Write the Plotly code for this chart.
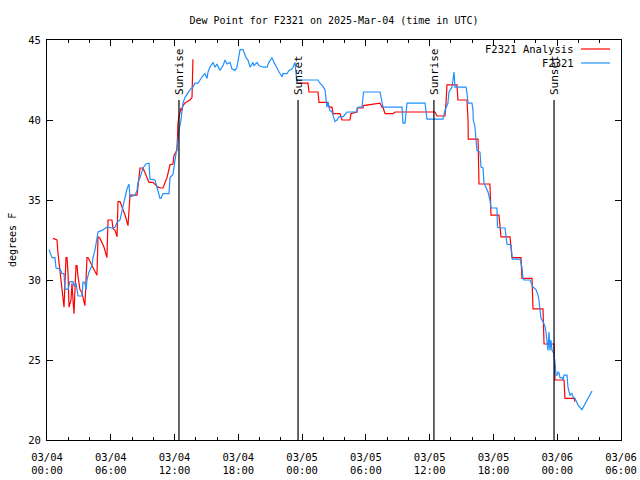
import pandas as pd
import plotly.graph_objects as go

# ---- data (hours since 2025-03-04 00:00 UTC, dew point degF) ----
obs_hours = [0.19, 0.47, 0.75, 0.85, 1.22, 1.41, 1.60, 1.69, 1.98, 2.16, 2.45, 2.54, 2.73, 2.92,
             3.29, 3.39, 3.57, 3.67, 3.76, 3.95, 4.23, 4.33, 4.52, 4.70, 4.75, 4.80, 5.17, 5.64,
             6.11, 6.40, 6.59, 6.87, 7.15, 7.43, 7.53, 7.71, 7.81, 8.28, 8.47, 8.56, 8.75, 9.03,
             9.31, 9.60, 9.69, 10.16, 10.35, 10.63, 10.72, 10.91, 11.48, 11.57, 11.85, 12.04,
             12.23, 12.32, 12.42, 12.61, 12.70, 12.79, 12.98, 13.17, 13.45, 13.73, 13.92, 14.21,
             14.58, 14.86, 15.05, 15.15, 15.33, 15.62, 15.80, 15.99, 16.27, 16.56, 16.75, 16.93,
             17.22, 17.40, 17.69, 17.87, 18.16, 18.44, 18.72, 18.91, 19.10, 19.38, 19.47, 19.76,
             19.94, 20.32, 20.70, 20.88, 21.17, 21.35, 21.54, 21.64, 21.83, 22.11, 22.20, 22.58,
             22.77, 23.05, 23.14, 23.33, 23.52, 23.56, 25.49, 25.68, 25.96, 26.15, 26.34, 26.43,
             26.62, 26.81, 26.91, 27.09, 27.28, 27.47, 27.85, 28.22, 29.16, 29.26, 29.63, 29.73,
             29.78, 31.33, 31.51, 31.61, 33.40, 33.49, 33.68, 33.87, 35.56, 35.75, 37.25, 37.44,
             37.72, 37.82, 38.10, 38.19, 38.29, 38.38, 39.42, 39.51, 39.61, 39.98, 40.08, 40.10,
             40.26, 40.36, 40.45, 40.73, 40.83, 41.02, 41.11, 41.49, 41.67, 41.77, 42.33, 42.38,
             42.62, 43.09, 43.18, 43.27, 43.65, 43.74, 43.78, 44.50, 44.68, 44.78, 44.87, 45.44,
             45.72, 46.00, 46.19, 46.28, 46.38, 46.47, 46.66, 46.85, 46.94, 47.04, 47.13, 47.22,
             47.32, 47.41, 47.51, 47.60, 47.70, 47.79, 47.88, 47.98, 48.07, 48.17, 48.26, 48.45,
             48.54, 48.64, 48.92, 49.01, 49.20, 49.39, 49.48, 49.67, 49.95, 50.33, 50.80, 51.27]
obs_dewpt = [31.9, 31.4, 31.4, 30.75, 30.7, 30.4, 30.4, 29.44, 29.4, 29.9, 29.9, 29.6, 29.8, 29.0,
             29.0, 29.9, 29.8, 29.4, 30.0, 30.5, 30.9, 31.4, 31.9, 32.5, 32.9, 33.0, 33.1, 33.3,
             33.25, 33.3, 33.6, 33.75, 34.6, 35.4, 35.7, 36.0, 35.2, 35.3, 35.6, 36.1, 36.4, 37.0,
             37.25, 37.3, 36.3, 36.25, 35.8, 35.1, 35.1, 35.4, 35.4, 36.4, 36.6, 37.5,
             38.1, 38.75, 39.4, 40.0, 40.6, 41.06, 41.4, 41.6, 41.9, 42.06, 42.3, 42.3,
             42.7, 42.9, 42.6, 43.0, 43.3, 43.6, 43.3, 43.5, 43.1, 43.4, 43.75, 43.5,
             43.6, 43.2, 43.1, 43.3, 44.4, 44.4, 43.9, 43.75, 43.3, 43.6, 43.4, 43.6,
             43.4, 43.3, 43.3, 43.6, 43.9, 43.6, 43.3, 43.25, 43.0, 42.7, 42.9, 42.9,
             43.1, 43.2, 43.3, 43.6, 42.3, 42.5, 42.5, 42.3, 42.1, 41.9, 40.8, 41.1,
             40.6, 40.5, 40.3, 39.9, 40.0, 40.2, 40.2, 40.5, 40.5, 40.8, 40.8, 41.25,
             41.75, 41.75, 41.25, 40.8, 40.8, 39.8, 39.8, 41.06, 41.06, 40.06, 40.06, 40.6,
             41.06, 41.75, 42.06, 42.6, 43.0, 42.06, 42.06, 41.7, 41.06, 41.06, 40.6, 40.0,
             39.6, 38.75, 38.1, 38.0, 37.06, 37.0, 36.06, 35.5, 35.0, 34.5, 34.5, 33.3,
             33.25, 33.25, 32.7, 32.25, 32.2, 31.7, 31.3, 31.3, 30.8, 30.1, 30.0, 30.0,
             29.56, 29.4, 29.06, 28.75, 28.1, 27.6, 27.4, 27.1, 26.75, 26.06, 25.6, 26.75,
             25.6, 26.25, 25.6, 25.5, 25.4, 24.8, 24.06, 24.06, 24.25, 24.2, 23.9, 23.9,
             23.75, 24.06, 24.06, 23.3, 22.8, 22.9, 22.7, 22.6, 22.2, 21.9, 22.5, 23.06]

ana_hours = [0.56, 0.94, 1.03, 1.22, 1.41, 1.51, 1.60, 1.79, 1.88, 1.98, 2.07, 2.26, 2.35, 2.45,
             2.54, 2.73, 2.82, 2.92, 3.10, 3.29, 3.39, 3.57, 3.76, 3.86, 4.23, 4.52, 4.70, 4.80,
             4.99, 5.36, 5.64, 5.74, 6.11, 6.21, 6.40, 6.59, 6.68, 6.87, 7.34, 7.62, 7.71, 7.81,
             8.47, 8.56, 8.75, 9.03, 9.41, 9.60, 9.97, 10.44, 10.72, 10.91, 11.29, 11.57, 11.85,
             11.95, 12.23, 12.32, 12.42, 12.61, 12.70, 12.79, 12.98, 13.45, 13.64, 13.66, 13.73,
             None,
             23.52, 24.55, 24.65, 25.49, 25.59, 26.43, 26.53, 26.81, 26.91, 27.56, 27.75, 28.50,
             28.60, 29.16, 29.18, 29.73, 29.75, 31.14, 31.33, 31.51, 31.61, 31.80, 32.55, 32.74,
             36.50, 36.69, 37.44, 37.54, 37.63, 38.57, 38.66, 39.51, 39.61, 39.63, 40.55, 40.64,
             41.67, 41.77, 42.52, 42.71, 43.56, 43.74, 44.59, 44.68, 45.63, 45.72, 46.66, 46.76,
             47.70, 47.79, 48.64, 48.73, 49.58, 49.67]
ana_dewpt = [32.6, 32.5, 31.7, 30.6, 29.56, 28.75, 28.3, 31.4, 31.4, 30.4, 28.3, 28.75, 29.8, 28.75,
             27.9, 30.9, 30.9, 30.2, 29.4, 29.2, 28.9, 28.4, 31.4, 31.4, 30.9, 30.5, 30.3, 32.7,
             32.6, 32.06, 31.4, 33.75, 33.75, 33.2, 33.1, 32.7, 34.9, 34.9, 34.06, 33.4, 34.8, 35.3,
             35.3, 35.9, 37.0, 37.0, 36.4, 36.1, 36.1, 35.8, 35.75, 35.75, 36.4, 37.2, 37.25,
             37.8, 38.1, 39.8, 40.2, 40.75, 40.6, 40.9, 41.06, 41.25, 41.4, 42.3, 43.8,
             None,
             42.3, 42.3, 41.75, 41.75, 41.1, 41.1, 40.8, 40.8, 40.4, 40.4, 40.0, 40.0,
             40.4, 40.5, 40.75, 40.75, 40.9, 41.06, 41.06, 40.8, 40.8, 40.4, 40.4, 40.5,
             40.5, 40.25, 40.25, 41.1, 42.2, 42.2, 41.25, 41.25, 40.0, 38.8, 38.8, 36.0,
             36.0, 34.06, 34.06, 32.7, 32.7, 31.4, 31.4, 30.1, 30.1, 28.2, 28.2, 26.0,
             26.0, 23.75, 23.75, 22.6, 22.6, 22.4]

sun_labels = ["Sunrise", "Sunset", "Sunrise", "Sunset"]
sun_times = ["2025-03-04 12:25", "2025-03-04 23:37", "2025-03-05 12:24", "2025-03-05 23:42"]

x_tick_vals = ["2025-03-04 00:00", "2025-03-04 06:00", "2025-03-04 12:00", "2025-03-04 18:00",
               "2025-03-05 00:00", "2025-03-05 06:00", "2025-03-05 12:00", "2025-03-05 18:00",
               "2025-03-06 00:00", "2025-03-06 06:00"]
x_tick_text = ["03/04<br>00:00", "03/04<br>06:00", "03/04<br>12:00", "03/04<br>18:00",
               "03/05<br>00:00", "03/05<br>06:00", "03/05<br>12:00", "03/05<br>18:00",
               "03/06<br>00:00", "03/06<br>06:00"]
y_tick_vals = [20, 25, 30, 35, 40, 45]

# ---- build ----
t0 = pd.Timestamp("2025-03-04 00:00")
def to_time(hs):
    return [None if h is None else t0 + pd.Timedelta(hours=h) for h in hs]

FONT = "DejaVu Sans Mono"
FS = 10
RED = "#ff0000"
BLUE = "#1e90ff"
L, R, T, B = 47, 19, 40, 40
PW, PH = 640 - L - R, 480 - T - B

fig = go.Figure()
fig.add_trace(go.Scatter(x=to_time(ana_hours), y=ana_dewpt, mode="lines",
                         line=dict(color=RED, width=1.2), name="F2321 Analysis",
                         connectgaps=False))
fig.add_trace(go.Scatter(x=to_time(obs_hours), y=obs_dewpt, mode="lines",
                         line=dict(color=BLUE, width=1.2), name="F2321"))

line_top = 41.25
for lab, t in zip(sun_labels, sun_times):
    fig.add_shape(type="line", xref="x", yref="y", x0=t, x1=t, y0=20, y1=line_top,
                  line=dict(color="black", width=1.2))
    fig.add_annotation(x=t, y=line_top, xref="x", yref="y", text=lab, showarrow=False,
                       textangle=-90, xanchor="center", yanchor="bottom", yshift=3,
                       font=dict(family=FONT, size=11, color="black"))

# gnuplot-like legend (top right, text left of sample)
leg_items = [("F2321 Analysis", RED), ("F2321", BLUE)]
for i, (lab, col) in enumerate(leg_items):
    ypx = 49 + 14 * i
    yp = 1 - (ypx - T) / PH
    fig.add_annotation(x=(576 - L) / PW, y=yp, xref="paper", yref="paper", text=lab,
                       showarrow=False, xanchor="right", yanchor="middle",
                       font=dict(family=FONT, size=FS + 0.5, color="black"))
    fig.add_shape(type="line", xref="paper", yref="paper",
                  x0=(581 - L) / PW, x1=(610 - L) / PW, y0=yp, y1=yp,
                  line=dict(color=col, width=1.2))

# y-axis title placed like gnuplot
fig.add_annotation(x=(12 - L) / PW, y=0.5, xref="paper", yref="paper", text="degrees F",
                   showarrow=False, textangle=-90, xanchor="center", yanchor="middle",
                   font=dict(family=FONT, size=FS, color="black"))

axis_common = dict(showgrid=False, zeroline=False, showline=True, linecolor="black",
                   linewidth=1, mirror="ticks", ticks="inside", tickcolor="black",
                   ticklen=6, automargin=False,
                   tickfont=dict(family=FONT, size=FS + 0.5, color="black"))

fig.update_layout(
    width=640, height=480,
    margin=dict(l=L, r=R, t=T, b=B, autoexpand=False),
    paper_bgcolor="white", plot_bgcolor="white",
    showlegend=False,
    title=dict(text="Dew Point for F2321 on 2025-Mar-04 (time in UTC)",
               xref="paper", x=0.5, xanchor="center", y=1 - 20 / 480, yanchor="middle",
               font=dict(family=FONT, size=FS, color="black")),
    xaxis=dict(type="date", range=["2025-03-04 00:00", "2025-03-06 06:00"],
               tickmode="array", tickvals=x_tick_vals, ticktext=x_tick_text,
               ticklabelstandoff=7,
               minor=dict(dtick=2 * 3600 * 1000, ticks="inside", ticklen=3,
                          tickcolor="black", showgrid=False),
               **axis_common),
    yaxis=dict(range=[20, 45], tickmode="array", tickvals=y_tick_vals,
               ticklabelstandoff=3,
               **axis_common),
)

fig.write_html("out.html")
